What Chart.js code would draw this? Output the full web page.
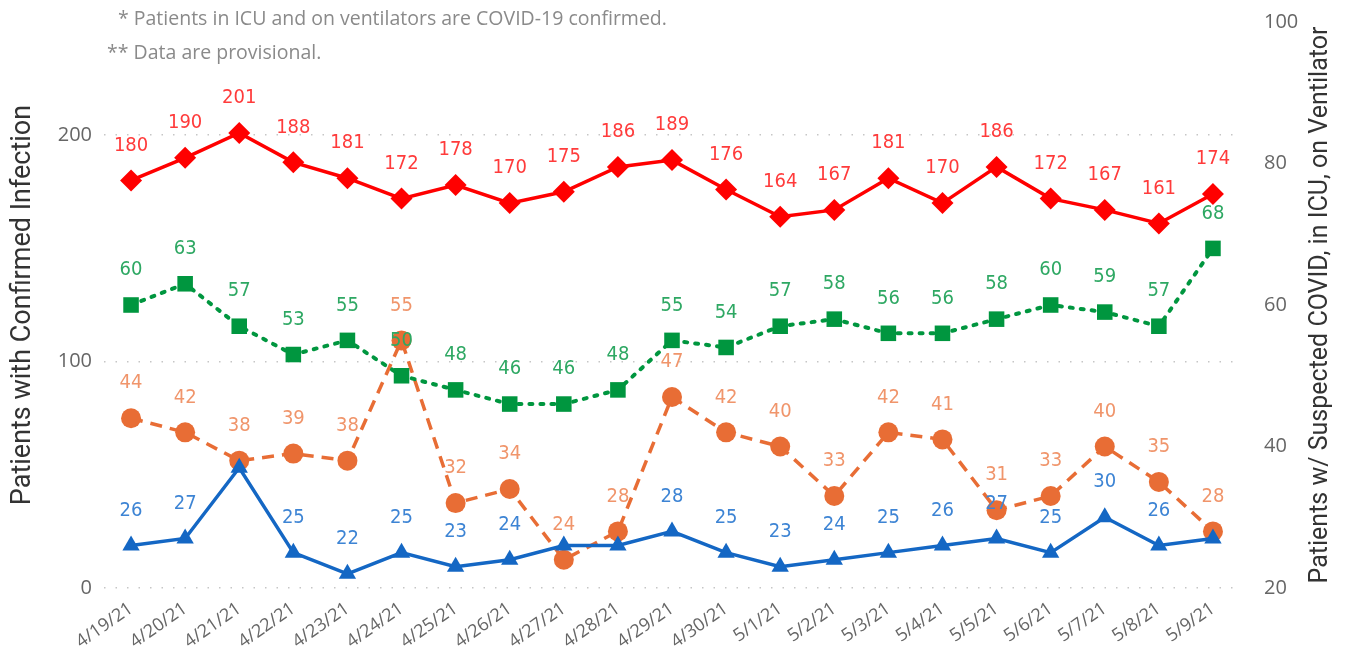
<!DOCTYPE html>
<html lang="en">
<head>
    <meta charset="UTF-8">
    <title>COVID Hospitalizations</title>
    <style>
        body {
            margin: 0;
            padding: 0;
            background: #fff;
        }

        .wrap {
            position: relative;
            width: 1346px;
            height: 649px;
        }

        .note {
            position: absolute;
            font-family: "Open Sans", "Noto Sans", sans-serif;
            font-size: 19.5px;
            color: #8a8a8a;
            white-space: nowrap;
        }
    </style>
    <script src="https://cdn.jsdelivr.net/npm/chart.js"></script>
</head>
<body>
    <div class="wrap">
        <canvas id="chart" width="1346" height="649"></canvas>
        <div class="note" style="left:118px; top:4px;">* Patients in ICU and on ventilators are COVID-19 confirmed.</div>
        <div class="note" style="left:107px; top:38px;">** Data are provisional.</div>
    </div>
<script>
    var dates = ['4/19/21', '4/20/21', '4/21/21', '4/22/21', '4/23/21', '4/24/21', '4/25/21',
                 '4/26/21', '4/27/21', '4/28/21', '4/29/21', '4/30/21', '5/1/21', '5/2/21',
                 '5/3/21', '5/4/21', '5/5/21', '5/6/21', '5/7/21', '5/8/21', '5/9/21'];

    // left axis
    var confirmed = [180, 190, 201, 188, 181, 172, 178, 170, 175, 186, 189, 176, 164, 167, 181, 170, 186, 172, 167, 161, 174];
    // right axis
    var suspected = [60, 63, 57, 53, 55, 50, 48, 46, 46, 48, 55, 54, 57, 58, 56, 56, 58, 60, 59, 57, 68];
    var inIcu = [44, 42, 38, 39, 38, 55, 32, 34, 24, 28, 47, 42, 40, 33, 42, 41, 31, 33, 40, 35, 28];
    var onVent = [26, 27, 37, 25, 22, 25, 23, 24, 26, 26, 28, 25, 23, 24, 25, 26, 27, 25, 30, 26, 27];

    // labels Power BI hid because of overlap
    var ventHidden = [2, 8, 9, 20];

    var leftTicks = [0, 100, 200];
    var rightTicks = [20, 40, 60, 80, 100];

    var leftTitle = 'Patients with Confirmed Infection';
    var rightTitle = 'Patients w/ Suspected COVID, in ICU, on Ventilator';

    var labelFont = '20px "Liberation Sans Narrow", "DejaVu Sans Condensed", Roboto, sans-serif';
    var tickFont = { family: '"Open Sans", "Noto Sans", sans-serif', size: 20 };

    // draws value labels above points + both axis titles
    var labelPlugin = {
        id: 'valueLabels',
        afterDatasetsDraw: function(chart) {
            var ctx = chart.ctx;
            ctx.save();
            ctx.font = labelFont;
            ctx.textAlign = 'center';
            ctx.textBaseline = 'middle';
            chart.data.datasets.forEach(function(ds, i) {
                var meta = chart.getDatasetMeta(i);
                meta.data.forEach(function(pt, j) {
                    if (ds.hideLabels && ds.hideLabels.indexOf(j) >= 0) return;
                    ctx.fillStyle = ds.labelColor;
                    ctx.fillText(ds.data[j], pt.x, pt.y - 35);
                });
            });
            ctx.restore();
        },
        afterDraw: function(chart) {
            var ctx = chart.ctx;
            var area = chart.chartArea;
            var midY = (area.top + area.bottom) / 2;
            ctx.save();
            ctx.font = '27px Roboto, sans-serif';
            ctx.fillStyle = '#333';
            ctx.textAlign = 'center';
            ctx.textBaseline = 'middle';
            ctx.translate(23, midY);
            ctx.rotate(-Math.PI / 2);
            ctx.fillText(leftTitle, 0, 0);
            ctx.restore();

            ctx.save();
            ctx.font = '25px Roboto, sans-serif';
            ctx.fillStyle = '#333';
            ctx.textAlign = 'center';
            ctx.textBaseline = 'middle';
            ctx.translate(1321, midY);
            ctx.rotate(-Math.PI / 2);
            ctx.fillText(rightTitle, 0, 0);
            ctx.restore();
        }
    };

    var ctx = document.getElementById('chart').getContext('2d');

    new Chart(ctx, {
        type: 'line',
        data: {
            labels: dates,
            datasets: [{
                label: 'Confirmed',
                data: confirmed,
                yAxisID: 'y',
                borderColor: '#ff0000',
                backgroundColor: '#ff0000',
                labelColor: '#ff3b3b',
                borderWidth: 3.5,
                pointStyle: 'rectRot',
                pointRadius: 11,
                pointBorderWidth: 0
            }, {
                label: 'Suspected',
                data: suspected,
                yAxisID: 'y1',
                borderColor: '#00963f',
                backgroundColor: '#00963f',
                labelColor: '#2ea863',
                borderWidth: 4,
                borderDash: [3, 8],
                borderCapStyle: 'round',
                pointStyle: 'rect',
                pointRadius: 11,
                pointBorderWidth: 0
            }, {
                label: 'On ventilator',
                data: onVent,
                yAxisID: 'y1',
                borderColor: '#1467c4',
                backgroundColor: '#1467c4',
                labelColor: '#3d84d4',
                hideLabels: ventHidden,
                borderWidth: 3.5,
                pointStyle: 'triangle',
                pointRadius: 10,
                pointBorderWidth: 0
            }, {
                label: 'In ICU',
                data: inIcu,
                yAxisID: 'y1',
                borderColor: '#e86d35',
                backgroundColor: '#e86d35',
                labelColor: '#f0956b',
                borderWidth: 3.5,
                borderDash: [12, 8],
                pointStyle: 'circle',
                pointRadius: 10,
                pointBorderWidth: 0
            }]
        },
        options: {
            responsive: false,
            animation: false,
            layout: { padding: { top: 22 } },
            plugins: {
                legend: { display: false },
                tooltip: { enabled: false }
            },
            scales: {
                x: {
                    offset: true,
                    grid: { display: false },
                    border: { display: false },
                    ticks: {
                        minRotation: 35,
                        maxRotation: 35,
                        color: '#666',
                        padding: 2,
                        font: { family: '"Open Sans", "Noto Sans", sans-serif', size: 18 }
                    },
                    afterFit: function(s) { s.height = 61; }
                },
                y: {
                    position: 'left',
                    min: 0,
                    max: 250,
                    afterBuildTicks: function(s) {
                        s.ticks = leftTicks.map(function(v) { return { value: v }; });
                    },
                    grid: {
                        color: '#c6c6c6',
                        lineWidth: 1.5,
                        drawTicks: false
                    },
                    border: { display: false, dash: [1.5, 10] },
                    ticks: { color: '#666', padding: 12, font: tickFont },
                    afterFit: function(s) {
                        s.width = 104;
                        s.paddingTop = 0;
                        s.paddingBottom = 0;
                    }
                },
                y1: {
                    position: 'right',
                    min: 20,
                    max: 100,
                    afterBuildTicks: function(s) {
                        s.ticks = rightTicks.map(function(v) { return { value: v }; });
                    },
                    grid: { display: false },
                    border: { display: false },
                    ticks: { color: '#666', padding: 16, font: tickFont },
                    afterFit: function(s) {
                        s.width = 106;
                        s.paddingTop = 0;
                        s.paddingBottom = 0;
                    }
                }
            }
        },
        plugins: [labelPlugin]
    });
</script>
</body>
</html>
